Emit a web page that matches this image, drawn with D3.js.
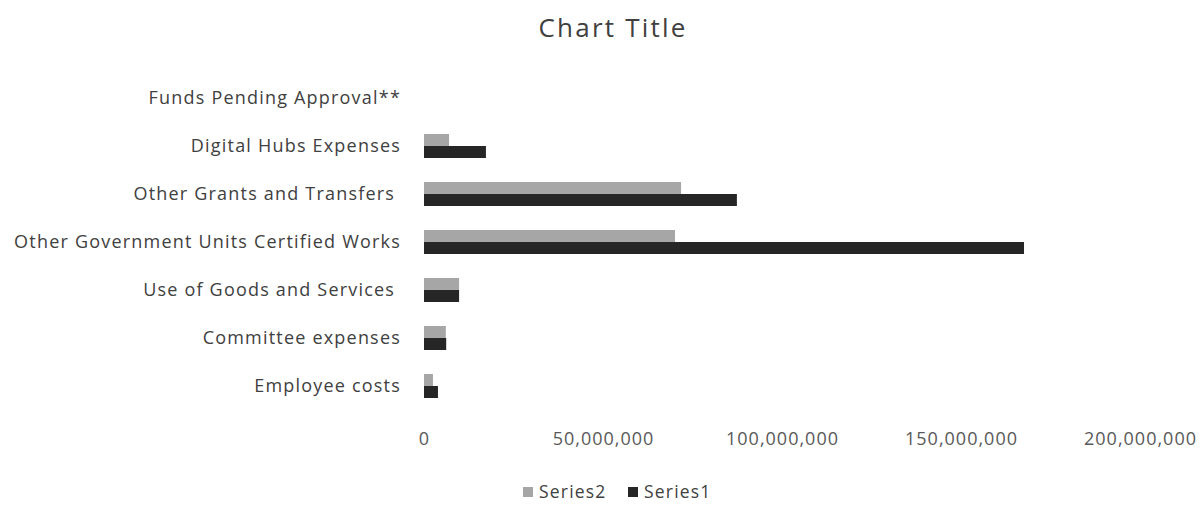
<!DOCTYPE html>
<html><head><meta charset="utf-8">
<script src="https://cdn.jsdelivr.net/npm/d3@7"></script>
<style>body{margin:0;background:#fff}svg text{font-family:"Open Sans",sans-serif;white-space:pre}</style>
</head><body><svg id="c" width="1203" height="506"></svg>
<script>
const categories = ["Funds Pending Approval**","Digital Hubs Expenses","Other Grants and Transfers ","Other Government Units Certified Works","Use of Goods and Services ","Committee expenses","Employee costs"];
const series2 = [0, 7000000, 71800000, 70100000, 9800000, 6100000, 2500000];
const series1 = [0, 17300000, 87400000, 167600000, 9800000, 6200000, 3900000];
const xTicks = [0, 50000000, 100000000, 150000000, 200000000];
const seriesNames = ["Series2","Series1"];
const colors = ["#a6a6a6","#262626"];

(function(){
const svg = d3.select("#c");
const pl = 424, pr = 1140, pt = 74, pb = 410;
const x = d3.scaleLinear().domain([0, 200000000]).range([pl, pr]);
const y = d3.scaleBand().domain(categories).range([pt, pb]).paddingInner(0.5).paddingOuter(0.25);
const sub = d3.scaleBand().domain(seriesNames).range([0, y.bandwidth()]);

svg.append("text").attr("x", 613).attr("y", 37).attr("text-anchor","middle")
  .attr("font-size", 26).attr("letter-spacing", 2.2).attr("fill","#404040").text("Chart Title");

const data = [series2, series1];
data.forEach((vals, si) => {
  svg.append("g").selectAll("rect").data(vals).join("rect")
    .attr("x", x(0))
    .attr("y", (d,i) => y(categories[i]) + sub(seriesNames[si]))
    .attr("width", d => x(d) - x(0))
    .attr("height", sub.bandwidth())
    .attr("fill", colors[si]);
});

const ya = svg.append("g").attr("transform", `translate(${pl},0)`)
  .call(d3.axisLeft(y).tickSize(0).tickPadding(23));
ya.select(".domain").remove();
ya.selectAll("text").attr("font-size", 18).attr("letter-spacing", 1.2).attr("fill","#404040").attr("font-family","Open Sans").attr("dy","0.34em");

const xa = svg.append("g").attr("transform", `translate(0,${pb})`)
  .call(d3.axisBottom(x).tickValues(xTicks).tickSize(0).tickPadding(22).tickFormat(d3.format(",")));
xa.select(".domain").remove();
xa.selectAll("text").attr("font-size", 18).attr("letter-spacing", 1).attr("fill","#595959").attr("font-family","Open Sans");

const leg = svg.append("g").attr("transform","translate(523,492)");
const items = [{n:"Series2",c:colors[0],x:0},{n:"Series1",c:colors[1],x:105}];
items.forEach(it => {
  leg.append("rect").attr("x", it.x).attr("y", -5).attr("width", 10).attr("height", 10).attr("fill", it.c);
  leg.append("text").attr("x", it.x + 16).attr("y", 0).attr("dy","0.35em").attr("font-size", 17.5).attr("letter-spacing", 1.2).attr("fill","#404040").text(it.n);
});
})();
</script></body></html>
